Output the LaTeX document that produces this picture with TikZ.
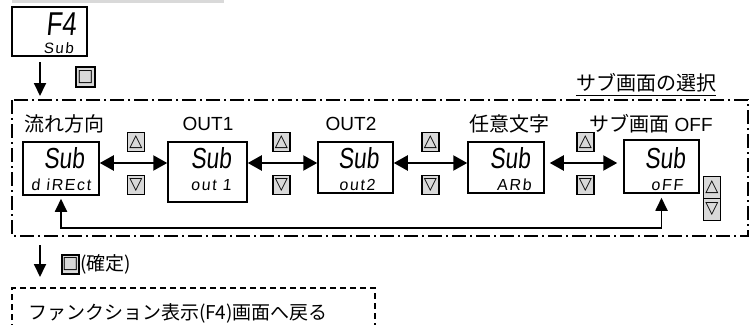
\documentclass[tikz,border=0pt]{standalone}
\usepackage{fontspec}
\setmainfont{Liberation Sans}
\newfontfamily\jp{Noto Sans CJK JP}
\newfontfamily\seg{Liberation Sans}[FakeSlant=0.1,FakeStretch=0.78]
\newfontfamily\segs{Liberation Sans}[FakeSlant=0.1,LetterSpace=10]
\newfontfamily\sym{DejaVu Sans}
\usetikzlibrary{arrows.meta}
\begin{document}
\begin{tikzpicture}[x=1pt,y=-1pt,
 disp/.style={draw, line width=1.5pt, fill=white, inner sep=0},
 key/.style={draw, line width=1.8pt, fill=gray!30, inner sep=0, minimum width=17pt, minimum height=19pt, font=\sym\fontsize{17}{17}\selectfont},
 lbl/.style={font=\jp\fontsize{20}{20}\selectfont, inner sep=0},
 lat/.style={font=\fontsize{19}{19}\selectfont, inner sep=0},
 big/.style={font=\seg\fontsize{29}{29}\selectfont, inner sep=0},
 small/.style={font=\segs\fontsize{16}{16}\selectfont, inner sep=0},
 dbl/.style={{Triangle[length=14pt,width=15pt]}-{Triangle[length=14pt,width=15pt]}, line width=2.2pt},
 arr/.style={-{Triangle[length=13pt,width=12pt]}, line width=1.8pt},
 frame/.style={line width=1.6pt, dash pattern=on 14pt off 4pt on 2pt off 4pt},
 dbox/.style={line width=1.3pt, dash pattern=on 6pt off 4pt},
]
\useasboundingbox (0,0) rectangle (754,324);
\draw[gray!30, line width=3pt] (12,1.5) -- (224,1.5);

% F4 display
\node[disp, minimum width=75pt, minimum height=49pt] (f4) at (49.5,31.5) {};
\node[font=\seg\fontsize{33}{33}\selectfont, inner sep=0] (f4a) at (61,24) {F4};
\node[font=\segs\fontsize{15}{15}\selectfont, inner sep=0] (f4b) at (58.5,48.5) {Sub};
\coordinate (t1) at (40,62);
\coordinate (t2) at (40,96);
\draw[arr] (t1) -- (t2);
\node[key, minimum width=19pt, minimum height=20pt] (k0) at (85.5,77) {□};

% title
\node[lbl] (title) at (646,83) {サブ画面の選択};
\draw[line width=1pt] ([yshift=-3pt]title.south west) -- ([yshift=-3pt]title.south east);

% frame
\draw[frame] (12,100) rectangle (748,236);

% labels
\node[lbl] (l1) at (64,124) {流れ方向};
\node[lat] (l2) at (208,124) {OUT1};
\node[lat] (l3) at (351,124) {OUT2};
\node[lbl] (l4) at (509,124) {任意文字};
\node[lat] (l5) at (651,124) {{\jp\fontsize{20}{20}\selectfont サブ画面} OFF};

% displays
\node[disp, minimum width=76pt, minimum height=53pt] (b1) at (61,168.5) {};
\node[disp, minimum width=79pt, minimum height=60pt] (b2) at (207.5,172) {};
\node[disp, minimum width=75pt, minimum height=51pt] (b3) at (355.5,167.5) {};
\node[disp, minimum width=76pt, minimum height=51pt] (b4) at (506,167.5) {};
\node[disp, minimum width=75pt, minimum height=53pt] (b5) at (661.5,166.5) {};

\node[big] (s1) at (64,158) {Sub};
\node[small] (u1) at (61,184.5) {d iREct};
\node[big] (s2) at (211,158) {Sub};
\node[small] (u2) at (211,185) {out 1};
\node[big] (s3) at (358.5,158) {Sub};
\node[small] (u3) at (357,185) {out2};
\node[big] (s4) at (510,158) {Sub};
\node[small] (u4) at (514,185) {ARb};
\node[big] (s5) at (665,158) {Sub};
\node[small] (u5) at (667,185) {oFF};

% keys between displays
\node[key] (ku1) at (136,142) {△};
\node[key] (kd1) at (136,185) {▽};
\node[key] (ku2) at (281.5,142) {△};
\node[key] (kd2) at (281.5,185) {▽};
\node[key] (ku3) at (430.5,142) {△};
\node[key] (kd3) at (430.5,185) {▽};
\node[key] (ku4) at (585.5,142) {△};
\node[key] (kd4) at (585.5,185) {▽};
\node[key, minimum height=22pt] (ku5) at (712,187.5) {△};
\node[key, minimum height=22pt] (kd5) at (712,209.5) {▽};

% double arrows
\coordinate (row) at (0,163);
\draw[dbl] (b1.east |- row) -- (b2.west |- row);
\draw[dbl] (b2.east |- row) -- (b3.west |- row);
\draw[dbl] (b3.east |- row) -- (b4.west |- row);
\draw[dbl] ([xshift=5pt]b4.east |- row) -- ([xshift=-6pt]b5.west |- row);

% return path
\coordinate (rr) at (0,228);
\draw[{Triangle[length=13pt,width=12pt]}-{Triangle[length=13pt,width=12pt]}, line width=1.8pt]
  ([yshift=-3pt]b1.south) -- (b1.south |- rr) -- (b5.south |- rr) -- ([yshift=-4pt]b5.south);

% bottom
\coordinate (t3) at (40,245);
\coordinate (t4) at (40,277);
\draw[arr] (t3) -- (t4);
\node[key] (k6) at (70.5,264.5) {□};
\node[lbl, anchor=west, font=\jp\fontsize{19}{19}\selectfont] (conf) at (80,264.5) {(確定)};
\draw[dbox] (12,330) -- (12,288) -- (375,288) -- (375,330);
\node[lbl, font=\jp\fontsize{19}{19}\selectfont] (back) at (178,313) {ファンクション表示(F4)画面へ戻る};
\end{tikzpicture}
\end{document}
